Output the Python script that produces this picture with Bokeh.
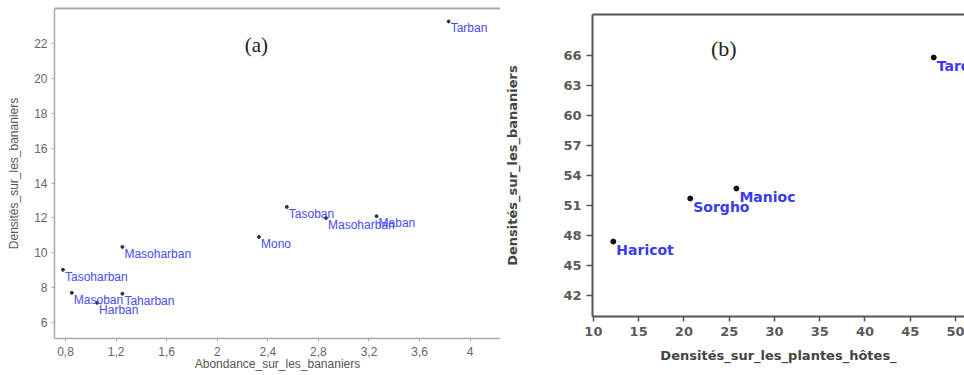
from bokeh.plotting import figure
from bokeh.models import ColumnDataSource, FixedTicker, LinearAxis, Label, Range1d
from bokeh.layouts import row, column
from bokeh.embed import file_html
from bokeh.resources import INLINE
from bokeh.core.properties import value

# ---------------- data (a) ----------------
a_names = ["Tarban", "Tasoban", "Masoharban", "Maban", "Mono", "Masoharban",
           "Tasoharban", "Masoban", "Taharban", "Harban"]
a_abondance = [3.83, 2.55, 2.86, 3.26, 2.33, 1.25, 0.78, 0.85, 1.25, 1.05]
a_densite = [23.26, 12.63, 12.0, 12.1, 10.91, 10.34, 9.03, 7.71, 7.66, 7.14]
a_xticks = [0.8, 1.2, 1.6, 2.0, 2.4, 2.8, 3.2, 3.6, 4.0]
a_xtick_labels = ["0,8", "1,2", "1,6", "2", "2,4", "2,8", "3,2", "3,6", "4"]
a_yticks = [6, 8, 10, 12, 14, 16, 18, 20, 22]

# ---------------- data (b) ----------------
b_names = ["Haricot", "Sorgho", "Manioc", "Taro"]
b_hotes = [12.2, 20.7, 25.8, 47.6]
b_densite = [47.4, 51.7, 52.7, 65.8]
b_xticks = [10, 15, 20, 25, 30, 35, 40, 45, 50]
b_yticks = [42, 45, 48, 51, 54, 57, 60, 63, 66]

# ---------------- panel (a) ----------------
fa = figure(width=500, height=375, output_backend="svg", toolbar_location=None,
            x_range=Range1d(0.713, 4.24), y_range=Range1d(5.09, 24.0),
            min_border_left=54, min_border_right=0, min_border_top=8, min_border_bottom=37)
fa.outline_line_color = None
fa.xgrid.visible = False
fa.ygrid.visible = False

srcA = ColumnDataSource(dict(x=a_abondance, y=a_densite, name=a_names))
fa.scatter("x", "y", source=srcA, size=3, color="#333333")
fa.text("x", "y", text="name", source=srcA, text_color="#4a4af5",
        text_font=value("Liberation Sans"), text_font_size="12px",
        text_baseline="top", x_offset=2, y_offset=0)

for ax in (fa.xaxis[0], fa.yaxis[0]):
    ax.axis_line_color = "#a8a8a8"
    ax.axis_line_width = 1.5
    ax.major_tick_line_color = "#a8a8a8"
    ax.major_tick_out = 3
    ax.major_tick_in = 0
    ax.minor_tick_line_color = None
    ax.major_label_text_color = "#666666"
    ax.major_label_text_font = "Liberation Sans"
    ax.major_label_text_font_size = "12px"
    ax.axis_label_text_color = "#555555"
    ax.axis_label_text_font = "Liberation Sans"
    ax.axis_label_text_font_size = "12px"
    ax.axis_label_text_font_style = "normal"

fa.xaxis.ticker = FixedTicker(ticks=a_xticks)
fa.xaxis.major_label_overrides = {t: l for t, l in zip(a_xticks, a_xtick_labels)}
fa.yaxis.ticker = FixedTicker(ticks=a_yticks)
fa.xaxis.axis_label = "Abondance_sur_les_bananiers"
fa.yaxis.axis_label = "Densités_sur_les_bananiers"
fa.xaxis.major_label_standoff = 5
fa.xaxis.axis_label_standoff = -2
fa.yaxis.major_label_standoff = 4
fa.yaxis.axis_label_standoff = 10

topA = LinearAxis(ticker=FixedTicker(ticks=[]), axis_line_color="#a8a8a8", axis_line_width=2,
                  major_label_text_font_size="0px", major_tick_line_color=None,
                  minor_tick_line_color=None, major_label_standoff=0)
fa.add_layout(topA, "above")

fa.add_layout(Label(x=2.31, y=21.89, text="(a)", text_font="Liberation Serif",
                    text_font_size="21px", text_color="#222222",
                    text_align="center", text_baseline="middle"))

# ---------------- panel (b) ----------------
fb = figure(width=464, height=375, output_backend="svg", toolbar_location=None,
            x_range=Range1d(9.9, 51.0), y_range=Range1d(39.9, 70.1),
            min_border_left=92, min_border_right=0, min_border_top=14, min_border_bottom=59)
fb.outline_line_color = None
fb.xgrid.visible = False
fb.ygrid.visible = False

srcB = ColumnDataSource(dict(x=b_hotes, y=b_densite, name=b_names))
fb.scatter("x", "y", source=srcB, size=5, color="#111111")
fb.text("x", "y", text="name", source=srcB, text_color="#3a3af0",
        text_font=value("DejaVu Sans"), text_font_size="14px", text_font_style="bold",
        text_baseline="top", x_offset=3, y_offset=0)

for ax in (fb.xaxis[0], fb.yaxis[0]):
    ax.axis_line_color = "#555555"
    ax.axis_line_width = 2
    ax.major_tick_line_color = "#555555"
    ax.major_tick_line_width = 1.5
    ax.major_tick_out = 6
    ax.major_tick_in = 0
    ax.minor_tick_line_color = None
    ax.major_label_text_color = "#5a5a5a"
    ax.major_label_text_font = "DejaVu Sans"
    ax.major_label_text_font_size = "13px"
    ax.major_label_text_font_style = "bold"
    ax.axis_label_text_color = "#444444"
    ax.axis_label_text_font = "DejaVu Sans"
    ax.axis_label_text_font_size = "13px"
    ax.axis_label_text_font_style = "bold"

fb.xaxis.major_tick_out = 5
fb.xaxis.ticker = FixedTicker(ticks=b_xticks)
fb.yaxis.ticker = FixedTicker(ticks=b_yticks)
fb.xaxis.axis_label = "Densités_sur_les_plantes_hôtes_"
fb.yaxis.axis_label = "Densités_sur_les_bananiers"
fb.xaxis.major_label_standoff = 5
fb.xaxis.axis_label_standoff = 9
fb.yaxis.major_label_standoff = 5
fb.yaxis.axis_label_standoff = 40

topB = LinearAxis(ticker=FixedTicker(ticks=[]), axis_line_color="#555555", axis_line_width=2,
                  major_label_text_font_size="0px", major_tick_line_color=None,
                  minor_tick_line_color=None, major_label_standoff=0)
fb.add_layout(topB, "above")

fb.add_layout(Label(x=24.4, y=66.7, text="(b)", text_font="Liberation Serif",
                    text_font_size="22px", text_color="#222222",
                    text_align="center", text_baseline="middle"))

p = row(column(fa), column(fb))
open("out.html", "w").write(file_html(p, INLINE))
